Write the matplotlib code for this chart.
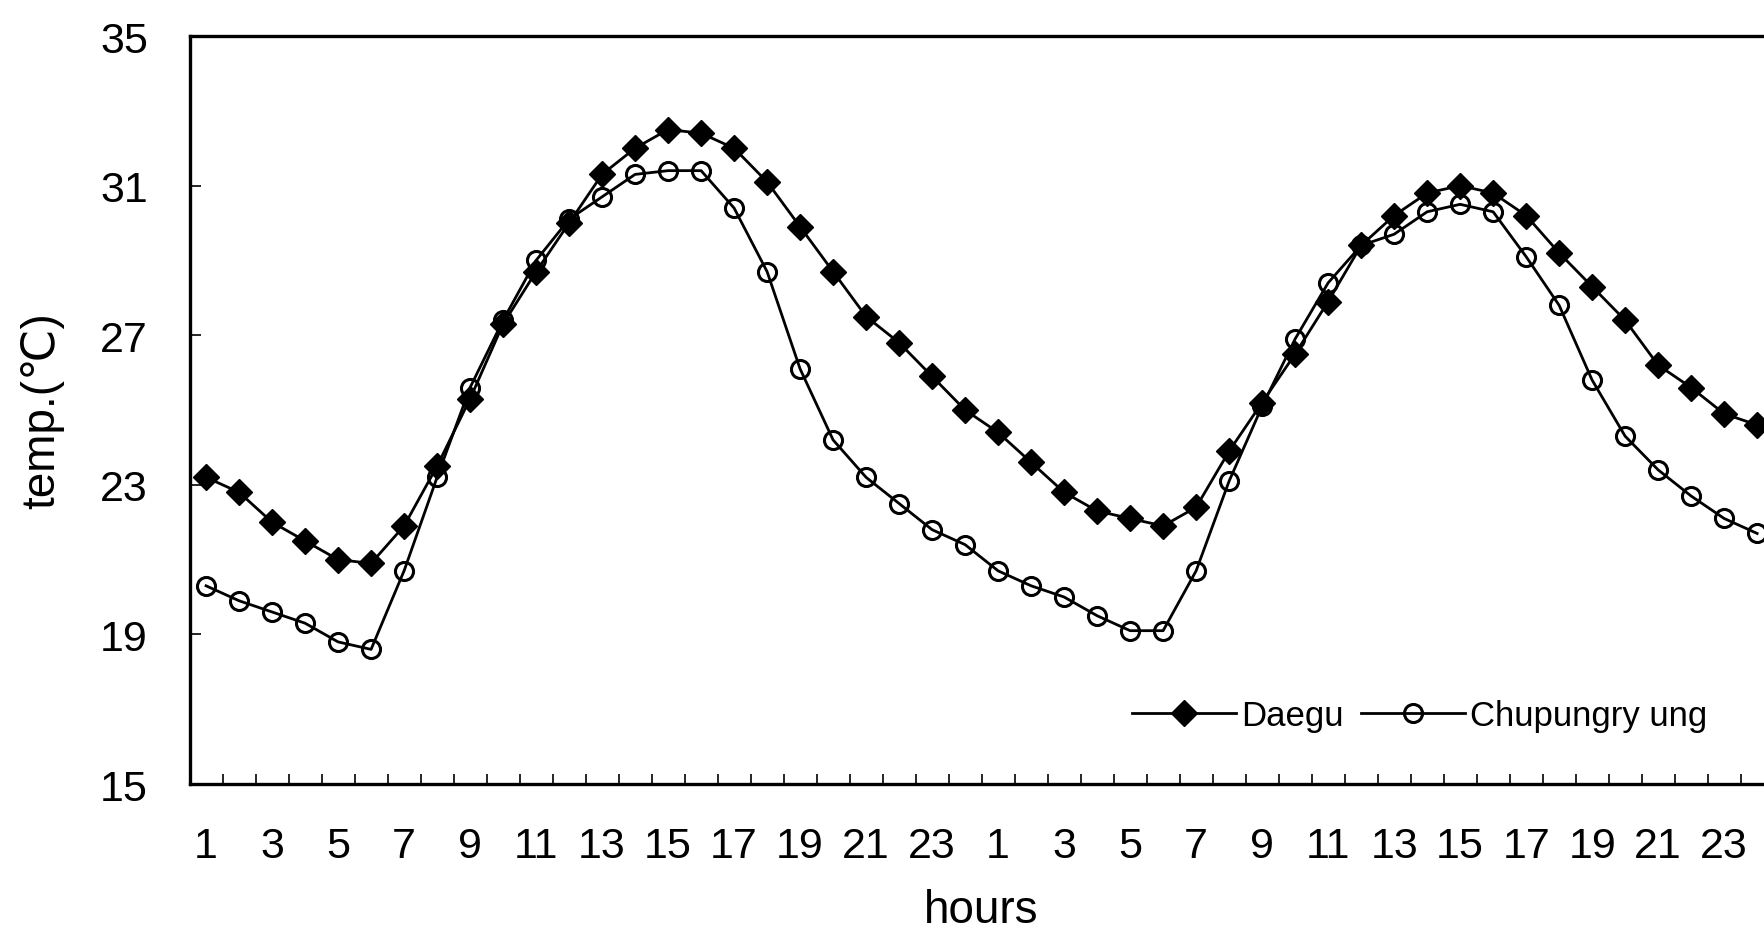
import numpy as np
import matplotlib.pyplot as plt

# hour of day for each of the 48 readings (two days)
hours = list(range(1, 25)) * 2

daegu = [23.2, 22.8, 22.0, 21.5, 21.0, 20.9, 21.9, 23.5, 25.3, 27.3, 28.7, 30.0,
         31.3, 32.0, 32.5, 32.4, 32.0, 31.1, 29.9, 28.7, 27.5, 26.8, 25.9, 25.0,
         24.4, 23.6, 22.8, 22.3, 22.1, 21.9, 22.4, 23.9, 25.2, 26.5, 27.9, 29.4,
         30.2, 30.8, 31.0, 30.8, 30.2, 29.2, 28.3, 27.4, 26.2, 25.6, 24.9, 24.6]

chupungryung = [20.3, 19.9, 19.6, 19.3, 18.8, 18.6, 20.7, 23.2, 25.6, 27.4, 29.0, 30.1,
                30.7, 31.3, 31.4, 31.4, 30.4, 28.7, 26.1, 24.2, 23.2, 22.5, 21.8, 21.4,
                20.7, 20.3, 20.0, 19.5, 19.1, 19.1, 20.7, 23.1, 25.1, 26.9, 28.4, 29.4,
                29.7, 30.3, 30.5, 30.3, 29.1, 27.8, 25.8, 24.3, 23.4, 22.7, 22.1, 21.7]

x = np.arange(1, len(hours) + 1)

plt.rcParams['font.family'] = ['Liberation Sans', 'DejaVu Sans']

fig = plt.figure(figsize=(17.65, 9.37), dpi=100)
ax = fig.add_axes([0.1074, 0.1622, 0.8975, 0.7983])

ax.plot(x, daegu, color='black', lw=2.0, marker='D', ms=13.5,
        label='Daegu')
ax.plot(x, chupungryung, color='black', lw=2.0, marker='o', ms=13,
        mfc='none', mew=2.2, label='Chupungry ung')

ax.set_xlim(0.5, len(hours) + 0.5)
ax.set_ylim(15, 35)
ax.set_yticks(np.arange(15, 36, 4))

# labels on odd hours, tick marks on the category boundaries
odd = x[::2]
ax.set_xticks(odd)
ax.set_xticklabels([str(hours[i - 1]) for i in odd])
ax.set_xticks(np.arange(1.5, len(hours) + 0.5), minor=True)
ax.tick_params(axis='x', which='major', length=0, pad=30, labelsize=31)
ax.tick_params(axis='x', which='minor', direction='in', length=7, width=1.2)
ax.tick_params(axis='y', direction='in', length=8, width=1.2, pad=30, labelsize=31)

for s in ax.spines.values():
    s.set_linewidth(2.4)

ax.set_xlabel('hours', fontsize=33, labelpad=16)
ax.set_ylabel('temp.(\u2103)', fontsize=33, labelpad=26)

ax.legend(loc='center left', bbox_to_anchor=(0.575, 0.092), frameon=False,
          ncol=2, fontsize=25, handlelength=3.0, handletextpad=0.15,
          columnspacing=0.5)

fig.savefig('out.png', dpi=100)
